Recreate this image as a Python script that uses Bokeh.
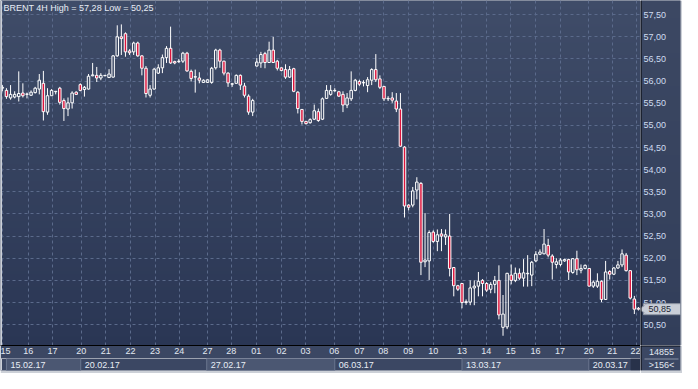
import numpy as np
from bokeh.plotting import figure
from bokeh.models import Range1d, FixedTicker, CustomJSTickFormatter, ColumnDataSource, Grid, Span
from bokeh.layouts import column, row
from bokeh.embed import file_html
from bokeh.resources import INLINE
from bokeh.core.properties import value

# ---------------- data ----------------
title_text = "BRENT 4H High = 57,28 Low = 50,25"

opens = [55.84, 55.79, 55.62, 55.64, 55.65, 55.73, 55.70, 55.68, 55.74, 55.82,
         55.95, 55.30, 55.67, 55.76, 55.84, 55.56, 55.37, 55.51, 55.75, 55.92,
         55.81, 55.82, 56.12, 56.13, 56.07, 56.12, 56.08, 56.09, 56.57, 57.00,
         57.07, 56.68, 56.66, 56.86, 56.57, 56.29, 55.68, 55.82, 56.18, 56.30,
         56.53, 56.74, 56.44, 56.44, 56.45, 56.63, 56.22, 56.09, 56.07, 55.97,
         55.97, 55.97, 56.30, 56.70, 56.45, 56.18, 55.93, 55.95, 56.13, 55.89,
         55.66, 55.30, 56.34, 56.41, 56.62, 56.42, 56.70, 56.45, 56.30, 56.26,
         56.09, 56.28, 55.75, 55.36, 55.09, 55.06, 55.14, 55.31, 55.14, 55.61,
         55.70, 55.78, 55.76, 55.70, 55.46, 55.60, 55.79, 55.99, 55.96, 55.90,
         56.02, 56.26, 56.05, 55.88, 55.60, 55.62, 55.55, 55.37, 54.51, 53.20,
         53.20, 53.54, 53.69, 51.92, 51.94, 52.59, 52.38, 52.55, 52.48, 52.50,
         51.79, 51.38, 51.43, 51.00, 51.01, 51.33, 51.37, 51.50, 51.43, 51.30,
         51.41, 51.50, 50.44, 50.45, 51.62, 51.50, 51.66, 51.55, 51.65, 51.62,
         51.94, 52.09, 52.10, 52.29, 52.05, 51.86, 51.86, 51.94, 51.97, 51.68,
         51.99, 51.73, 51.77, 51.77, 51.37, 51.37, 51.48, 51.07, 51.70, 51.64,
         51.78, 51.85, 52.07, 51.72, 51.08, 50.87]

highs = [55.91, 55.84, 55.91, 55.77, 56.22, 55.95, 55.74, 55.79, 55.87, 56.16,
         56.23, 55.84, 55.82, 55.77, 55.87, 55.61, 55.63, 55.77, 55.77, 55.95,
         55.89, 56.16, 56.41, 56.32, 56.18, 56.13, 56.27, 56.59, 57.26, 57.28,
         57.10, 56.72, 56.89, 56.89, 56.59, 56.34, 55.91, 56.30, 56.38, 56.60,
         56.79, 57.23, 56.46, 56.50, 56.66, 56.66, 56.26, 56.26, 56.20, 56.04,
         56.04, 56.32, 56.73, 56.73, 56.46, 56.20, 55.96, 56.15, 56.15, 55.96,
         55.70, 55.60, 56.52, 56.66, 56.66, 56.89, 57.00, 56.48, 56.31, 56.38,
         56.34, 56.30, 55.77, 55.37, 55.10, 55.16, 55.47, 55.38, 55.63, 55.91,
         55.91, 55.84, 55.78, 55.77, 55.73, 56.22, 56.05, 56.03, 56.02, 56.09,
         56.29, 56.61, 56.13, 55.89, 55.66, 55.75, 55.73, 55.73, 54.53, 53.22,
         53.61, 53.83, 53.72, 53.02, 52.63, 52.63, 52.65, 52.66, 52.65, 53.00,
         51.80, 51.40, 51.44, 51.07, 51.50, 51.50, 51.69, 51.53, 51.46, 51.46,
         51.60, 51.84, 51.17, 51.67, 51.86, 51.79, 51.77, 51.98, 52.07, 51.94,
         52.16, 52.20, 52.66, 52.44, 52.09, 52.00, 52.00, 51.99, 51.99, 52.00,
         52.17, 51.86, 51.86, 51.78, 51.50, 51.66, 51.50, 51.94, 51.73, 51.80,
         51.94, 52.20, 52.12, 51.73, 51.15, 50.90]

lows = [55.77, 55.60, 55.58, 55.61, 55.54, 55.63, 55.61, 55.67, 55.72, 55.70,
        55.11, 55.24, 55.67, 55.70, 55.47, 55.10, 55.21, 55.38, 55.69, 55.77,
        55.65, 55.81, 56.11, 55.98, 56.02, 56.11, 56.08, 56.08, 56.55, 56.59,
        56.55, 56.59, 56.59, 56.55, 56.13, 55.63, 55.63, 55.81, 56.16, 56.18,
        56.41, 56.39, 56.38, 56.41, 56.41, 56.21, 55.99, 55.74, 55.95, 55.96,
        55.96, 55.94, 56.26, 56.30, 56.13, 55.87, 55.87, 55.94, 55.80, 55.63,
        55.24, 55.21, 56.33, 56.30, 56.29, 56.41, 56.41, 56.24, 56.22, 56.05,
        56.07, 55.75, 55.27, 55.02, 55.02, 55.04, 55.12, 55.08, 55.12, 55.60,
        55.67, 55.76, 55.64, 55.30, 55.39, 55.55, 55.77, 55.89, 55.88, 55.75,
        55.91, 55.98, 55.82, 55.55, 55.55, 55.51, 55.30, 54.51, 52.92, 53.08,
        53.15, 53.33, 51.62, 51.80, 51.51, 52.35, 52.16, 52.16, 52.30, 51.59,
        51.14, 51.26, 50.87, 50.95, 50.94, 50.94, 51.14, 51.14, 51.24, 51.21,
        51.21, 50.62, 50.25, 50.40, 51.41, 51.46, 51.51, 51.36, 51.36, 51.37,
        51.91, 52.07, 52.09, 52.02, 51.52, 51.77, 51.82, 51.92, 51.51, 51.65,
        51.62, 51.66, 51.75, 51.36, 51.33, 51.33, 51.01, 51.06, 51.52, 51.62,
        51.76, 51.80, 51.70, 51.07, 50.74, 50.82]

closes = [55.86, 55.65, 55.70, 55.70, 55.72, 55.67, 55.71, 55.75, 55.84, 56.02,
          55.31, 55.67, 55.79, 55.77, 55.52, 55.38, 55.51, 55.73, 55.70, 55.79,
          55.86, 56.11, 56.14, 56.07, 56.13, 56.13, 56.16, 56.57, 57.00, 56.96,
          56.66, 56.64, 56.86, 56.57, 56.29, 55.72, 55.82, 56.27, 56.30, 56.53,
          56.74, 56.41, 56.41, 56.45, 56.63, 56.23, 56.06, 56.10, 56.02, 56.02,
          56.03, 56.29, 56.70, 56.45, 56.18, 55.96, 55.94, 56.13, 55.91, 55.68,
          55.30, 55.56, 56.43, 56.60, 56.42, 56.70, 56.42, 56.29, 56.24, 56.09,
          56.26, 55.77, 55.38, 55.09, 55.04, 55.13, 55.33, 55.11, 55.60, 55.79,
          55.79, 55.79, 55.66, 55.46, 55.62, 55.79, 56.02, 55.93, 55.97, 56.03,
          56.26, 56.03, 55.86, 55.60, 55.61, 55.57, 55.37, 54.53, 53.18, 53.15,
          53.52, 53.72, 51.91, 51.96, 52.58, 52.38, 52.53, 52.50, 52.53, 51.77,
          51.38, 51.30, 51.00, 51.02, 51.33, 51.37, 51.48, 51.43, 51.28, 51.41,
          51.50, 50.72, 50.74, 51.66, 51.50, 51.66, 51.55, 51.67, 51.66, 51.91,
          52.09, 52.14, 52.32, 52.07, 51.91, 51.92, 51.96, 51.97, 51.69, 51.99,
          51.74, 51.77, 51.84, 51.37, 51.46, 51.48, 51.07, 51.69, 51.64, 51.78,
          51.85, 52.10, 51.72, 51.10, 50.85, 50.85]

price_ticks = [50.5, 51.0, 51.5, 52.0, 52.5, 53.0, 53.5, 54.0, 54.5, 55.0,
               55.5, 56.0, 56.5, 57.0, 57.5]
price_labels = ["50,50", "51,00", "51,50", "52,00", "52,50", "53,00", "53,50", "54,00",
                "54,50", "55,00", "55,50", "56,00", "56,50", "57,00", "57,50"]

day_labels = ["15", "16", "17", "20", "21", "22", "23", "24", "27", "28",
              "01", "02", "03", "06", "07", "08", "09", "10", "13", "14",
              "15", "16", "17", "20", "21", "22"]
day_pos = [0.0, 6.3, 12.2, 19.2, 25.2, 31.2, 37.2, 43.1, 50.0, 55.8,
           61.9, 68.0, 73.9, 80.9, 87.0, 92.8, 98.9, 105.0, 112.0, 117.9,
           123.9, 129.9, 135.9, 142.9, 148.6, 154.6]

week_labels = ["15.02.17", "20.02.17", "27.02.17", "06.03.17", "13.03.17", "20.03.17"]
week_start = [1.0, 19.1, 49.8, 81.0, 112.0, 142.9]
week_end = [19.1, 49.8, 81.0, 112.0, 142.9, 153.1]

last_price_text = "50,85"
last_price = 50.85
counter_text = "14855"
bars_text = ">156<"

# ---------------- style ----------------
FONT = "Liberation Sans"
PANEL = "#3b4763"
FRAME_GRAY = "#ccd0d7"
BG_TOP = (63, 76, 104)
BG_BOTTOM = (42, 54, 84)
COL_TOP = (60, 72, 99)
COL_BOTTOM = (50, 62, 90)
BEAR = "#dc143c"
GRID = "#5b6a8b"
LABEL_COLOR = "#cfdcf0"


def gradient(top, bottom, n=256):
    img = np.empty((n, 1), dtype=np.uint32)
    view = img.view(dtype=np.uint8).reshape((n, 1, 4))
    t = np.linspace(0.0, 1.0, n)
    for k in range(3):
        view[:, 0, k] = np.round(bottom[k] + (top[k] - bottom[k]) * t).astype(np.uint8)
    view[:, 0, 3] = 255
    return img


o = np.array(opens)
h = np.array(highs)
l = np.array(lows)
c = np.array(closes)
idx = np.arange(len(o))
body_top = np.maximum(o, c)
body_bot = np.minimum(o, c)
bear = c < o

x0, x1 = -0.45, 155.5
y0, y1 = 50.03, 57.82

# ---------------- main chart ----------------
p = figure(width=640, height=358, x_range=Range1d(x0, x1), y_range=Range1d(y0, y1),
           y_axis_type=None, toolbar_location=None, output_backend="svg",
           min_border_left=0, min_border_right=0, min_border_top=0, min_border_bottom=13)
p.background_fill_color = PANEL
p.border_fill_color = PANEL
p.outline_line_color = None

p.image_rgba(image=[gradient(BG_TOP, BG_BOTTOM)], x=x0, y=y0, dw=x1 - x0, dh=y1 - y0,
             level="image")

# grids
p.xgrid.ticker = FixedTicker(ticks=day_pos)
ygrids = list(p.ygrid)
if not ygrids:
    yg = Grid(dimension=1)
    p.add_layout(yg)
    ygrids = [yg]
for g in ygrids:
    g.ticker = FixedTicker(ticks=price_ticks)
for g in list(p.xgrid) + ygrids:
    g.grid_line_color = GRID
    g.grid_line_dash = "3 3"
    g.grid_line_width = 1
    g.level = "underlay"

# bottom day axis
xax = p.xaxis[0]
xax.ticker = FixedTicker(ticks=day_pos)
xax.formatter = CustomJSTickFormatter(
    args=dict(pos=day_pos, labels=day_labels),
    code="""
for (let j = 0; j < pos.length; j++) {
  if (Math.abs(pos[j] - tick) < 1e-6) { return labels[j]; }
}
return "";
""")
xax.axis_line_color = "black"
xax.major_tick_in = 0
xax.major_tick_out = 0
xax.minor_tick_line_color = None
xax.major_label_standoff = 2
xax.major_label_text_font = FONT
xax.major_label_text_font_size = "9px"
xax.major_label_text_color = "#e2e7f0"

# candles
p.segment(x0=idx, y0=h, x1=idx, y1=body_top, line_color="white", line_width=1)
p.segment(x0=idx, y0=body_bot, x1=idx, y1=l, line_color="white", line_width=1)
bull_src = ColumnDataSource(dict(x=idx[~bear], top=body_top[~bear], bottom=body_bot[~bear]))
bear_src = ColumnDataSource(dict(x=idx[bear], top=body_top[bear], bottom=body_bot[bear]))
p.vbar(x="x", top="top", bottom="bottom", width=0.6, source=bull_src,
       fill_color=None, line_color="white", line_width=1)
p.vbar(x="x", top="top", bottom="bottom", width=0.6, source=bear_src,
       fill_color=BEAR, line_color="white", line_width=1)

# window edge on the left
p.add_layout(Span(location=x0, dimension="height", line_color=FRAME_GRAY, line_width=3,
                  level="overlay"))

# title inside the plot
p.text(x=[x0], y=[y1], text=[title_text], x_offset=3, y_offset=2,
       text_baseline="top", text_align="left", text_font=value(FONT),
       text_font_size=value("9px"), text_color="#e8edf5")

# ---------------- week strip ----------------
p2 = figure(width=640, height=15, x_range=p.x_range, y_range=Range1d(0, 1),
            x_axis_type=None, y_axis_type=None, toolbar_location=None,
            output_backend="svg", min_border_left=0, min_border_right=0,
            min_border_top=0, min_border_bottom=3)
p2.background_fill_color = PANEL
p2.border_fill_color = FRAME_GRAY
p2.outline_line_color = None
p2.grid.visible = False

shade_left = [s for k, s in enumerate(week_start) if k % 2 == 0]
shade_right = [e for k, e in enumerate(week_end) if k % 2 == 0]
p2.quad(left=shade_left, right=shade_right, bottom=0, top=1,
        fill_color="#4b5772", line_color="#6a768f", line_width=1)
p2.quad(left=[week_end[-1]], right=[x1], bottom=0, top=1,
        fill_color="#28324a", line_color=None)
p2.text(x=week_start, y=[0.5] * len(week_start), text=week_labels, x_offset=4,
        text_baseline="middle", text_align="left", text_font=value(FONT),
        text_font_size=value("9px"), text_color="#e8edf5")
p2.add_layout(Span(location=x0, dimension="height", line_color=FRAME_GRAY, line_width=3,
                   level="overlay"))

# ---------------- right price column ----------------
pr = figure(width=42, height=345, x_range=Range1d(0, 40), y_range=p.y_range,
            x_axis_type=None, y_axis_type=None, toolbar_location=None,
            output_backend="svg", min_border_left=0, min_border_right=2,
            min_border_top=0, min_border_bottom=0)
pr.background_fill_color = PANEL
pr.border_fill_color = FRAME_GRAY
pr.outline_line_color = None
pr.grid.visible = False
pr.image_rgba(image=[gradient(COL_TOP, COL_BOTTOM)], x=0, y=y0, dw=40, dh=y1 - y0,
              level="image")
pr.add_layout(Span(location=0.5, dimension="height", line_color="black", line_width=1))
pr.text(x=[3] * len(price_ticks), y=price_ticks, text=price_labels,
        text_baseline="middle", text_align="left", text_font=value(FONT),
        text_font_size=value("9px"), text_color=LABEL_COLOR)
# last price tag
pr.rect(x=[21.5], y=[last_price], width=37, height=11, height_units="screen",
        fill_color="#c9ced7", line_color="#8e95a3", line_width=1)
pr.scatter(x=[3], y=[last_price], marker="triangle", angle=np.pi / 2, size=9,
           fill_color="#c9ced7", line_color="#8e95a3", line_width=1)
pr.rect(x=[5.5], y=[last_price], width=3, height=9, height_units="screen",
        fill_color="#c9ced7", line_color=None)
pr.text(x=[8], y=[last_price], text=[last_price_text], text_baseline="middle",
        text_align="left", text_font=value(FONT), text_font_size=value("9px"),
        text_color="#1d2433")

# ---------------- right bottom corner ----------------
pr2 = figure(width=42, height=28, x_range=Range1d(0, 40), y_range=Range1d(0, 25),
             x_axis_type=None, y_axis_type=None, toolbar_location=None,
             output_backend="svg", min_border_left=0, min_border_right=2,
             min_border_top=0, min_border_bottom=3)
pr2.background_fill_color = PANEL
pr2.border_fill_color = FRAME_GRAY
pr2.outline_line_color = None
pr2.grid.visible = False
pr2.add_layout(Span(location=0.5, dimension="height", line_color="black", line_width=1))
pr2.add_layout(Span(location=24.6, dimension="width", line_color="black", line_width=1))
pr2.segment(x0=[4], y0=[11.5], x1=[38], y1=[11.5], line_color="#8a93a6", line_width=1)
pr2.text(x=[21], y=[18.5], text=[counter_text], text_baseline="middle", text_align="center",
         text_font=value(FONT), text_font_size=value("9px"), text_color="#e2e7f0")
pr2.text(x=[21], y=[5.5], text=[bars_text], text_baseline="middle", text_align="center",
         text_font=value(FONT), text_font_size=value("9px"), text_color="#e2e7f0")

layout = row(column(p, p2, spacing=0), column(pr, pr2, spacing=0), spacing=0)
open("out.html", "w").write(file_html(layout, INLINE))
